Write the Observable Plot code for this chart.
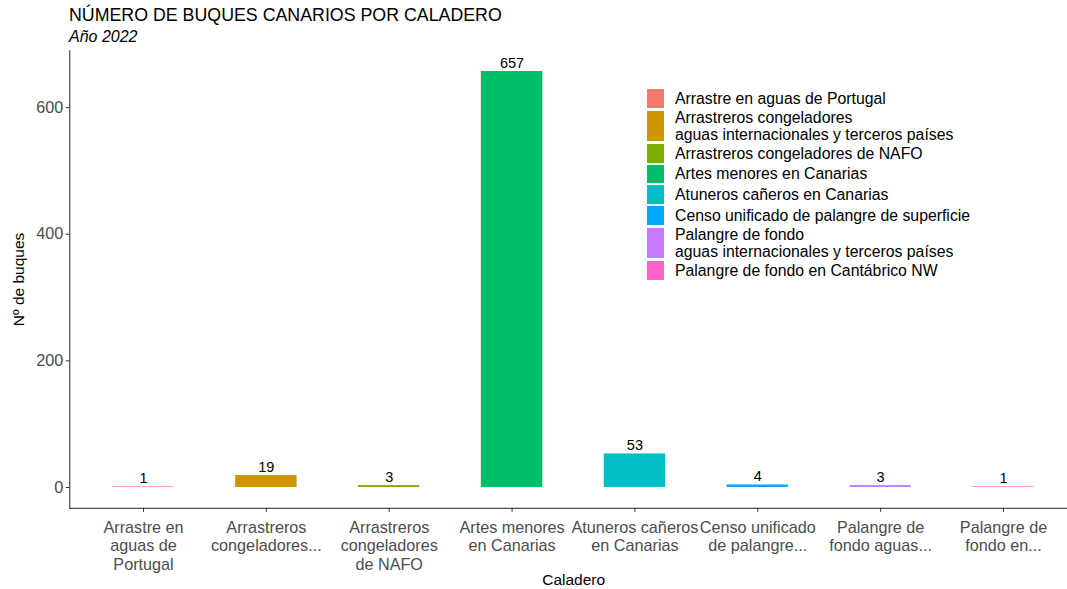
<!DOCTYPE html>
<html><head><meta charset="utf-8">
<script src="https://cdn.jsdelivr.net/npm/d3@7"></script>
<script src="https://cdn.jsdelivr.net/npm/@observablehq/plot@0.6"></script>
<style>
body{margin:0;background:#fff;font-family:"Liberation Sans",Arial,sans-serif;}
#wrap{position:relative;width:1067px;height:589px;overflow:hidden;background:#fff}
#title{position:absolute;left:69px;top:5px;font-size:17.8px;color:#000;white-space:nowrap}
#subtitle{position:absolute;left:69px;top:28px;font-size:16px;font-style:italic;color:#000}
#legend{position:absolute;left:646px;top:88px;font-size:15.8px;color:#000}
.row{display:flex;align-items:center}
.sw{width:19px;border:1px solid #fff;box-sizing:border-box;margin-right:10px}
.lab{white-space:pre-line;line-height:17px}
</style></head>
<body>
<div id="wrap">
  <div id="chart"></div>
  <div id="title"></div>
  <div id="subtitle"></div>
  <div id="legend"></div>
</div>
<script>
const titleText = "NÚMERO DE BUQUES CANARIOS POR CALADERO";
const subtitleText = "Año 2022";
const categories = [
  "Arrastre en aguas de Portugal",
  "Arrastreros congeladores aguas internacionales y terceros países",
  "Arrastreros congeladores de NAFO",
  "Artes menores en Canarias",
  "Atuneros cañeros en Canarias",
  "Censo unificado de palangre de superficie",
  "Palangre de fondo aguas internacionales y terceros países",
  "Palangre de fondo en Cantábrico NW"
];
const legendLabels = [
  "Arrastre en aguas de Portugal",
  "Arrastreros congeladores\naguas internacionales y terceros países",
  "Arrastreros congeladores de NAFO",
  "Artes menores en Canarias",
  "Atuneros cañeros en Canarias",
  "Censo unificado de palangre de superficie",
  "Palangre de fondo\naguas internacionales y terceros países",
  "Palangre de fondo en Cantábrico NW"
];
const tickLabels = [
  "Arrastre en\naguas de\nPortugal",
  "Arrastreros\ncongeladores...",
  "Arrastreros\ncongeladores\nde NAFO",
  "Artes menores\nen Canarias",
  "Atuneros cañeros\nen Canarias",
  "Censo unificado\nde palangre...",
  "Palangre de\nfondo aguas...",
  "Palangre de\nfondo en..."
];
const values = [1, 19, 3, 657, 53, 4, 3, 1];
const colors = ["#F8766D", "#CD9600", "#7CAE00", "#00BE67", "#00BFC4", "#00A9FF", "#C77CFF", "#FF61CC"];
const yTicks = [0, 200, 400, 600];
const xTitle = "Caladero";
const yTitle = "Nº de buques";

const data = categories.map((c, i) => ({cat: c, n: values[i]}));
const tickMap = new Map(categories.map((c, i) => [c, tickLabels[i]]));

const maxV = d3.max(values);
const pad = maxV * 0.05;

const chart = Plot.plot({
  width: 1067, height: 589,
  marginLeft: 69.3, marginTop: 50.2, marginBottom: 81.2, marginRight: 0,
  style: {fontFamily: "'Liberation Sans', Arial, sans-serif", background: "white", overflow: "hidden"},
  x: {domain: categories, range: [69.3, 1076.7], paddingInner: 0.5, paddingOuter: 0.35, align: 0.5, round: false, label: null},
  y: {domain: [-pad, maxV + pad], range: [507.8, 50.2], label: null},
  color: {domain: categories, range: colors},
  marks: [
    Plot.barY(data, {x: "cat", y1: 0, y2: "n", fill: "cat"}),
    Plot.text(data, {x: "cat", y: "n", text: d => String(d.n), lineAnchor: "bottom", dy: -3.5, fontSize: 14.5, fill: "black"}),
    Plot.axisY({ticks: yTicks, tickSize: 3.5, tickPadding: 3, fontSize: 16.2, fill: "#4d4d4d", stroke: "#333", label: null}),
    Plot.axisX({tickSize: 4, tickPadding: 7.5, tickFormat: d => tickMap.get(d), fontSize: 16.2, lineHeight: 1.14, fill: "#4d4d4d", stroke: "#333", label: null}),
    Plot.frame({anchor: "left", stroke: "#222"}),
    Plot.frame({anchor: "bottom", stroke: "#222"}),
    Plot.text([yTitle], {frameAnchor: "left", dx: -51, rotate: -90, fontSize: 15.5, fill: "black", textAnchor: "middle"}),
    Plot.text([xTitle], {frameAnchor: "bottom", dx: 5, dy: 72, fontSize: 15.5, fill: "black", lineAnchor: "middle"})
  ]
});
document.getElementById("chart").appendChild(chart);
document.getElementById("title").textContent = titleText;
document.getElementById("subtitle").textContent = subtitleText;

const leg = document.getElementById("legend");
legendLabels.forEach((l, i) => {
  const two = l.includes("\n");
  const row = document.createElement("div");
  row.className = "row";
  const sw = document.createElement("div");
  sw.className = "sw";
  sw.style.height = (two ? 31.8 : 20.8) + "px";
  sw.style.background = colors[i];
  const lab = document.createElement("div");
  lab.className = "lab";
  lab.textContent = l;
  row.appendChild(sw); row.appendChild(lab);
  leg.appendChild(row);
});
</script>
</body></html>
